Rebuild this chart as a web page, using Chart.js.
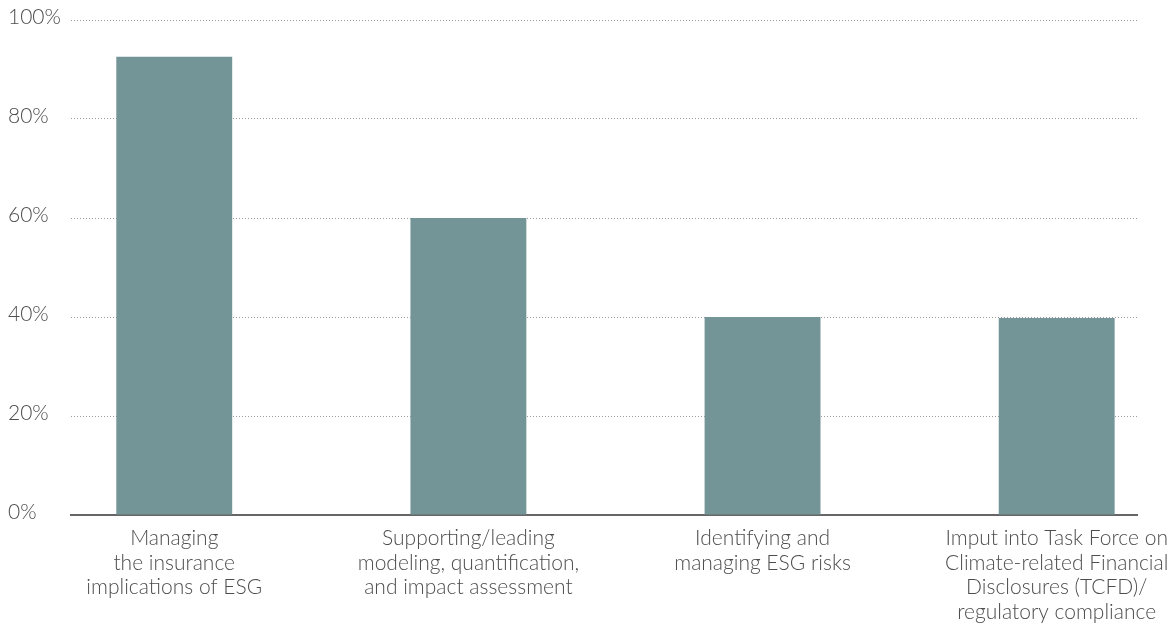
<!DOCTYPE html>
<html>
<head>
<meta charset="utf-8">
<script src="https://cdn.jsdelivr.net/npm/chart.js@4"></script>
<style>
    html, body { margin: 0; padding: 0; background: #fff; }
    #wrap { width: 1172px; height: 630px; }
</style>
</head>
<body>
<div id="wrap"><canvas id="chartESG"></canvas></div>
<script>
// categories (multi-line labels) and share of respondents, in %
const categories = [
    ["Managing", "the insurance", "implications of ESG"],
    ["Supporting/leading", "modeling, quantification,", "and impact assessment"],
    ["Identifying and", "managing ESG risks"],
    ["Imput into Task Force on", "Climate-related Financial", "Disclosures (TCFD)/", "regulatory compliance"]
];
const shares = [92.6, 60, 40, 39.8];
const yTicks = [0, 20, 40, 60, 80, 100];

const barColour = '#749598';
const textColour = '#4d4d4d';
const gridColour = '#9a9a9a';

const fontSpec = { family: 'Lato', weight: 300, size: 21, lineHeight: 1.17 };

new Chart(document.getElementById('chartESG'), {
    type: 'bar',
    data: {
        datasets: [{
            data: shares.map((v, i) => ({ x: i, y: v })),
            backgroundColor: barColour,
            borderWidth: 0,
            barPercentage: 0.394,
            categoryPercentage: 1
        }]
    },
    options: {
        responsive: true,
        maintainAspectRatio: false,
        animation: false,
        layout: { padding: { left: 8, right: 35, top: 20, bottom: 0 } },
        plugins: {
            legend: { display: false },
            tooltip: { enabled: false }
        },
        scales: {
            x: {
                type: 'linear',
                offset: false,
                // uneven side margins: first bar sits closer to the y axis
                min: -0.351,
                max: 3.273,
                afterBuildTicks: function (scale) {
                    scale.ticks = categories.map((c, i) => ({ value: i }));
                },
                afterFit: function (scale) {
                    scale.height = 115;
                    // let the last label run into the right margin
                    scale.paddingLeft = 0;
                    scale.paddingRight = 0;
                },
                grid: { display: false, drawTicks: false, offset: false },
                border: { display: true, color: '#666', width: 2 },
                ticks: {
                    autoSkip: false,
                    maxRotation: 0,
                    padding: 11,
                    color: textColour,
                    font: fontSpec,
                    callback: function (value) {
                        return categories[value];
                    }
                }
            },
            y: {
                min: 0,
                max: 100,
                afterBuildTicks: function (scale) {
                    scale.ticks = yTicks.map(v => ({ value: v }));
                },
                afterFit: function (scale) {
                    scale.width = 63;
                },
                // dotted horizontal guides
                border: { display: false, dash: [1, 2] },
                grid: {
                    drawTicks: false,
                    lineWidth: 1,
                    color: function (ctx) {
                        return ctx.tick && ctx.tick.value === 0 ? 'rgba(0,0,0,0)' : gridColour;
                    }
                },
                ticks: {
                    crossAlign: 'far',
                    labelOffset: -3,
                    color: textColour,
                    font: fontSpec,
                    callback: function (value) {
                        return value + '%';
                    }
                }
            }
        }
    }
});
</script>
</body>
</html>
